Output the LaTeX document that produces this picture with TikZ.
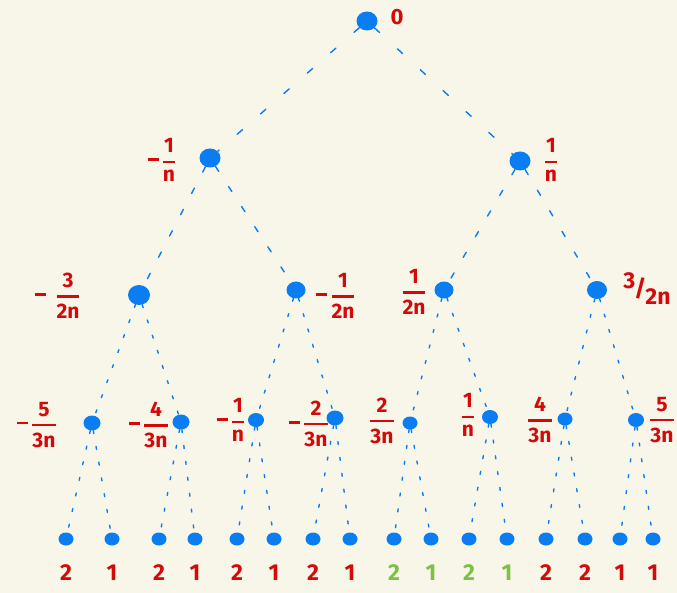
\documentclass[tikz,border=0pt]{standalone}
\usepackage{amsmath}
\usepackage{fontspec}
\setmainfont{Fira Sans}
\usetikzlibrary{shapes.geometric}
\definecolor{bgc}{HTML}{F8F5E9}
\definecolor{dotblue}{HTML}{0A7DF2}
\definecolor{labred}{HTML}{D30A0A}
\definecolor{labgreen}{HTML}{7CC142}
\newcommand{\fr}[2]{$\genfrac{}{}{2.2pt}{0}{\text{#1}}{\text{#2}}$}
\newcommand{\mn}{\rule[6pt]{11pt}{2.8pt}\hspace{3pt}}
\tikzset{
  vtx/.style={ellipse, fill=dotblue, inner sep=0pt, minimum width=#1, minimum height=#1-2pt},
  vtx/.default=16pt,
  lab/.style={text=labred, font=\fontsize{21}{24}\selectfont\bfseries, inner sep=0pt},
  num/.style={font=\fontsize{23}{26}\selectfont\bfseries, inner sep=0pt},
  edgeA/.style={draw=dotblue, line width=1.4pt, line cap=round, dash pattern=on 7pt off 24pt},
  edgeB/.style={draw=dotblue, line width=1.4pt, line cap=round, dash pattern=on 6pt off 18pt},
  edgeC/.style={draw=dotblue, line width=1.4pt, line cap=round, dash pattern=on 3pt off 13pt}
}
\begin{document}
\begin{tikzpicture}[x=1pt,y=-1pt]
\useasboundingbox[fill=bgc] (0,0) rectangle (677,593);
% vertices
\node[vtx=21pt] (r) at (367,21) {};
\node[vtx=21pt] (a) at (210,158) {};
\node[vtx=21pt] (b) at (520,161) {};
\node[vtx=22pt] (aa) at (139,295) {};
\node[vtx=19pt] (ab) at (296,290) {};
\node[vtx=19pt] (ba) at (444,290) {};
\node[vtx=20pt] (bb) at (597,290) {};
\node[vtx=17pt] (c1) at (92,423) {};
\node[vtx=17pt] (c2) at (181,422) {};
\node[vtx=16pt] (c3) at (256,420) {};
\node[vtx=17pt] (c4) at (335,418) {};
\node[vtx=15pt] (c5) at (410,423) {};
\node[vtx=16pt] (c6) at (490,417) {};
\node[vtx=15pt] (c7) at (565,419) {};
\node[vtx=16pt] (c8) at (636,420) {};
\foreach \i/\x in {1/66,2/112,3/159,4/195,5/237,6/274,7/313,8/350,9/394,10/431,11/469,12/507,13/546,14/585,15/620,16/653}{
  \node[vtx=15pt] (l\i) at (\x,539) {};
}
% edges
\path[edgeA] (r) -- (a);
\path[edgeA] (r) -- (b);
\path[edgeB] (a) -- (aa);
\path[edgeB] (a) -- (ab);
\path[edgeB] (b) -- (ba);
\path[edgeB] (b) -- (bb);
\path[edgeC] (aa) -- (c1);
\path[edgeC] (aa) -- (c2);
\path[edgeC] (ab) -- (c3);
\path[edgeC] (ab) -- (c4);
\path[edgeC] (ba) -- (c5);
\path[edgeC] (ba) -- (c6);
\path[edgeC] (bb) -- (c7);
\path[edgeC] (bb) -- (c8);
\path[edgeC] (c1) -- (l1);
\path[edgeC] (c1) -- (l2);
\path[edgeC] (c2) -- (l3);
\path[edgeC] (c2) -- (l4);
\path[edgeC] (c3) -- (l5);
\path[edgeC] (c3) -- (l6);
\path[edgeC] (c4) -- (l7);
\path[edgeC] (c4) -- (l8);
\path[edgeC] (c5) -- (l9);
\path[edgeC] (c5) -- (l10);
\path[edgeC] (c6) -- (l11);
\path[edgeC] (c6) -- (l12);
\path[edgeC] (c7) -- (l13);
\path[edgeC] (c7) -- (l14);
\path[edgeC] (c8) -- (l15);
\path[edgeC] (c8) -- (l16);
% labels
\node[lab, font=\fontsize{22}{24}\selectfont\bfseries] (t0) at (397,17) {0};
\node[lab] (ta) at (162,160) {\mn\fr{1}{n}};
\node[lab] (tb) at (551,160) {\fr{1}{n}};
\node[lab] (taa) at (58,296) {\mn\hspace{6pt}\fr{3}{2n}};
\node[lab] (tab) at (336,296) {\mn\fr{1}{2n}};
\node[lab] (tba) at (414,292) {\fr{1}{2n}};
\node[lab, font=\fontsize{23}{26}\selectfont\bfseries] (tbb) at (647,289) {\raisebox{8pt}{3}\hspace{-1pt}/\hspace{-1pt}\raisebox{-8pt}{2n}};
\node[lab] (tc1) at (37,425) {\mn\fr{5}{3n}};
\node[lab] (tc2) at (149,425) {\mn\fr{4}{3n}};
\node[lab] (tc3) at (231,420) {\mn\fr{1}{n}};
\node[lab] (tc4) at (309,424) {\mn\fr{2}{3n}};
\node[lab] (tc5) at (382,421) {\fr{2}{3n}};
\node[lab] (tc6) at (468,415) {\fr{1}{n}};
\node[lab] (tc7) at (540,420) {\fr{4}{3n}};
\node[lab] (tc8) at (662,420) {\fr{5}{3n}};
% leaf numbers
\foreach \i/\v/\c in {1/2/labred,2/1/labred,3/2/labred,4/1/labred,5/2/labred,6/1/labred,7/2/labred,8/1/labred,9/2/labgreen,10/1/labgreen,11/2/labgreen,12/1/labgreen,13/2/labred,14/2/labred,15/1/labred,16/1/labred}{
  \node[num, text=\c] (n\i) at ([yshift=-34pt]l\i.center) {\v};
}
\end{tikzpicture}
\end{document}
